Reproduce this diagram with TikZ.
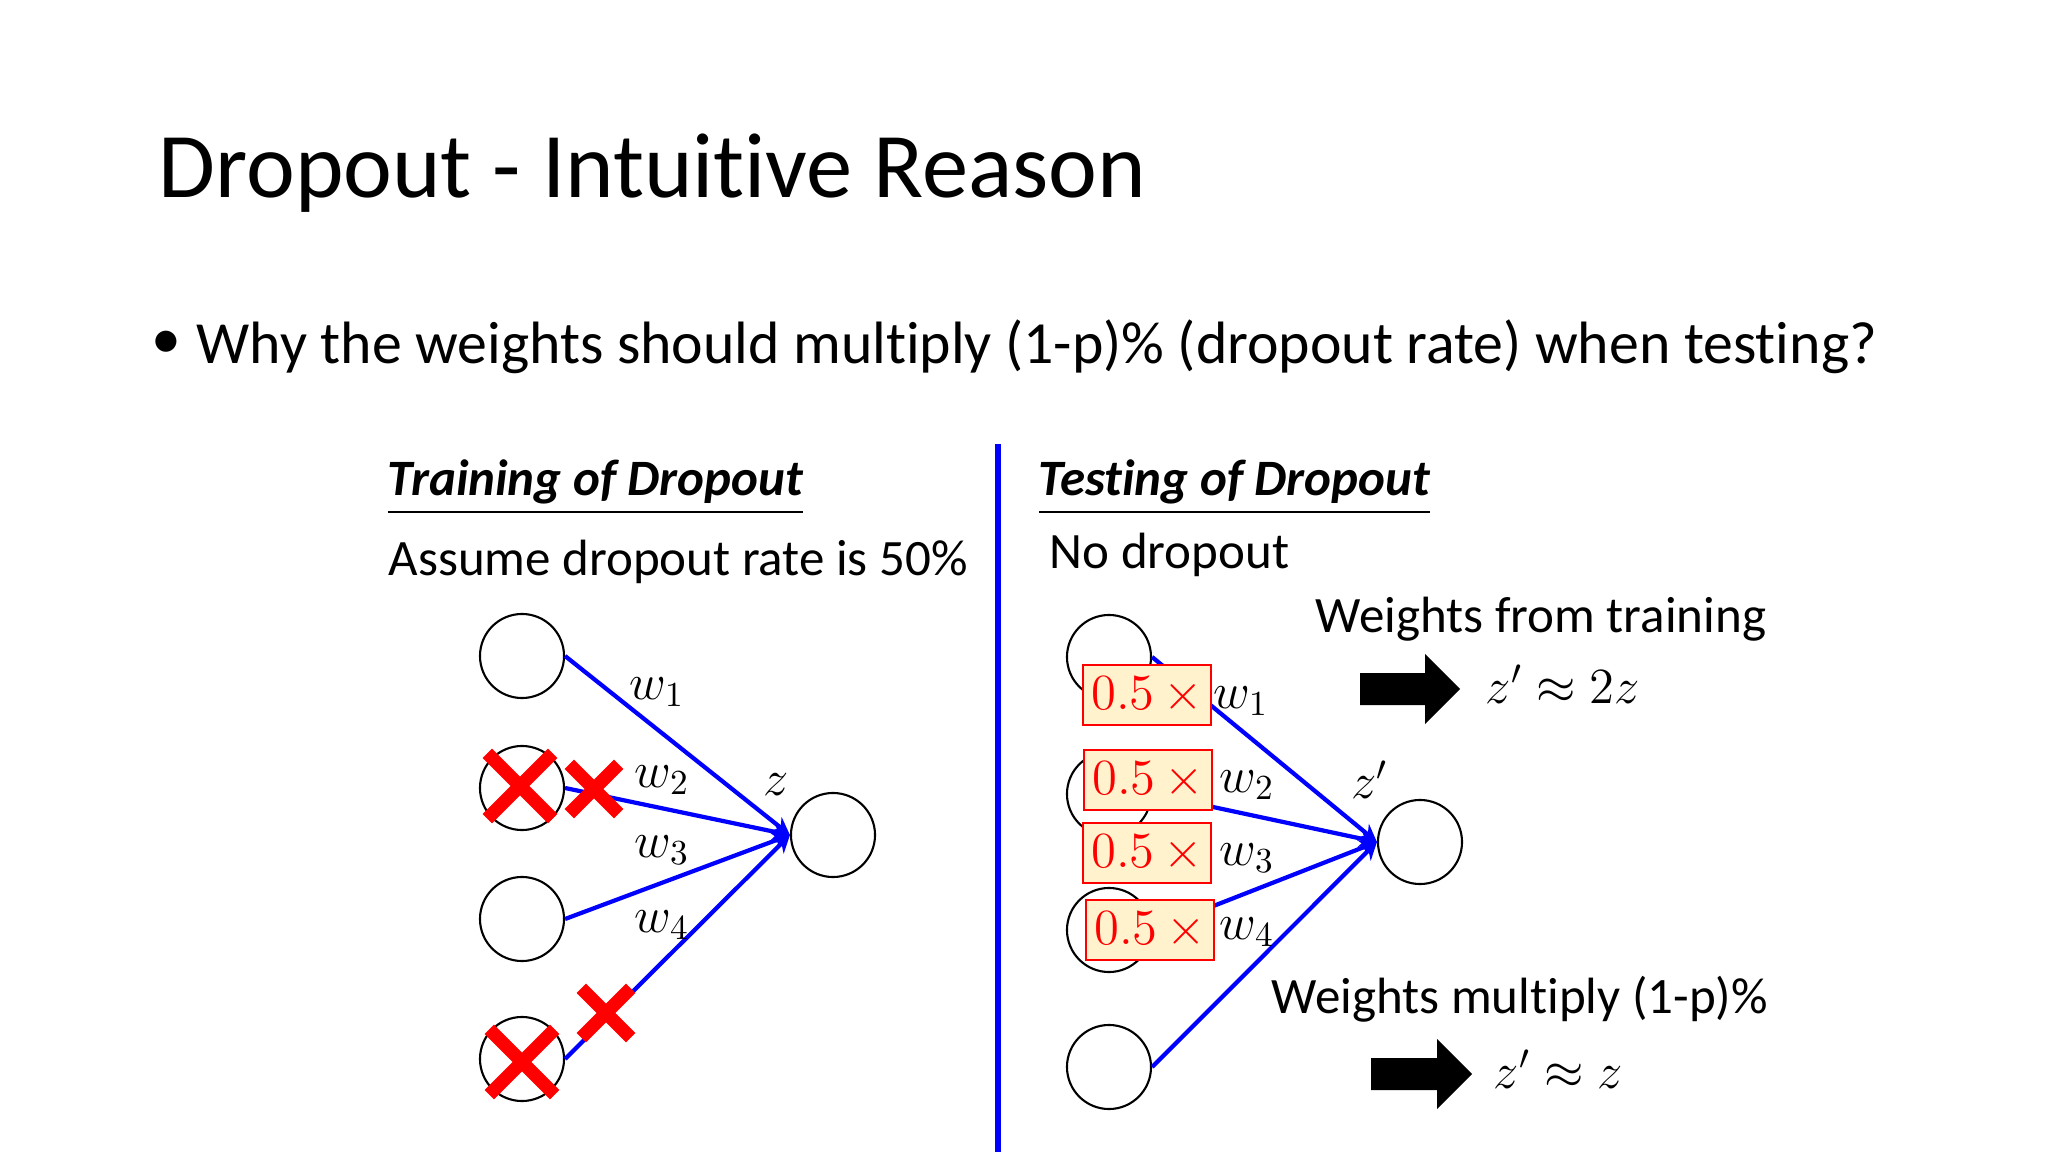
\documentclass[tikz,border=0pt]{standalone}
\usepackage{amsmath,amssymb}
\usepackage{fontspec}
\setmainfont{Carlito}[Ligatures={NoCommon}]
\usepackage{xcolor}
\usetikzlibrary{arrows.meta,shapes.misc}
\definecolor{wireblue}{HTML}{0000FF}
\definecolor{dropred}{HTML}{FF0000}
\definecolor{scalefill}{HTML}{FFF2CC}
\tikzset{
  unit/.style={circle, draw=black, line width=0.6pt, minimum size=0.84cm, inner sep=0pt},
  wire/.style={draw=wireblue, line width=1.2pt, -{Stealth[length=5pt,width=5pt]}},
  divider/.style={draw=wireblue, line width=1.6pt},
  xbig/.style={cross out, draw=dropred, line width=3.8pt, minimum size=0.52cm, inner sep=0pt},
  xsmall/.style={cross out, draw=dropred, line width=3.8pt, minimum size=0.36cm, inner sep=0pt},
  scalebox/.style={draw=dropred, fill=scalefill, line width=0.7pt, text=dropred,
    minimum width=1.28cm, minimum height=0.6cm, inner sep=0pt, font=\fontsize{14.5}{16}\selectfont},
  wlab/.style={font=\fontsize{14}{16}\selectfont, inner sep=0pt},
  head/.style={anchor=base west, inner sep=0pt, font=\fontsize{14.5}{18}\selectfont\bfseries\itshape},
  txt/.style={anchor=base west, inner sep=0pt, font=\fontsize{14.5}{18}\selectfont},
  bigarrow/.style={fill=black},
}

\begin{document}
\begin{tikzpicture}[x=0.01cm, y=-0.01cm]
  \useasboundingbox[fill=white] (0,0) rectangle (2048,1152);
  % heading
  \node[anchor=base west, inner sep=0pt, font=\fontsize{26.3}{32}\selectfont] (title) at (158,198) {Dropout - Intuitive Reason};
  \node[inner sep=0pt, font=\fontsize{17}{20}\selectfont] (dot) at (166,345) {\textbullet};
  \node[anchor=base west, inner sep=0pt, font=\fontsize{17}{20}\selectfont] (question) at (196,364)
    {Why the weights should multiply (1-p)\% (dropout rate) when testing?};
  \draw[divider] (998,444) -- (998,1152);

  % training side
  \node[head] (trainhead) at (387,496) {\underline{Training of Dropout}};
  \node[txt] (assume) at (388,575) {Assume dropout rate is 50\%};
  \node[unit] (in0) at (522,656) {};
  \node[unit] (in1) at (522,788) {};
  \node[unit] (in2) at (522,919) {};
  \node[unit] (in3) at (522,1059) {};
  \node[unit] (out) at (833,835) {};
  \foreach \i in {0,...,3}
    \draw[wire] (in\i.east) -- (out.west);
  \node[wlab] (w1) at (657,692) {$w_1$};
  \node[wlab] (w2) at (662,780) {$w_2$};
  \node[wlab] (w3) at (662,850) {$w_3$};
  \node[wlab] (w4) at (662,925) {$w_4$};
  \node[wlab] (z) at (776,785) {$z$};
  \node[xbig] (x1) at (520,786) {};
  \node[xsmall] (x2) at (594,789) {};
  \node[xbig] (x3) at (522,1062) {};
  \node[xsmall] (x4) at (606,1013) {};

  % testing side
  \node[head] (testhead) at (1038,496) {\underline{Testing of Dropout}};
  \node[txt] (nodrop) at (1049,568) {No dropout};
  \node[unit] (tin0) at (1109,657) {};
  \node[unit] (tin1) at (1109,794) {};
  \node[unit] (tin2) at (1109,930) {};
  \node[unit] (tin3) at (1109,1067) {};
  \node[unit] (tout) at (1420,842) {};
  \foreach \i in {0,...,3}
    \draw[wire] (tin\i.east) -- (tout.west);
  \node[scalebox] (b1) at (1147,695) {$0.5\,\times$};
  \node[scalebox] (b2) at (1148,780) {$0.5\,\times$};
  \node[scalebox] (b3) at (1147,853) {$0.5\,\times$};
  \node[scalebox] (b4) at (1150,930) {$0.5\,\times$};
  \node[wlab] (tw1) at (1241,701) {$w_1$};
  \node[wlab] (tw2) at (1247,785) {$w_2$};
  \node[wlab] (tw3) at (1247,858) {$w_3$};
  \node[wlab] (tw4) at (1247,932) {$w_4$};
  \node[wlab] (zp) at (1370,780) {$z'$};

  \node[txt] (fromtrain) at (1315,633) {Weights from training};
  \fill[bigarrow] (1360,673) -- (1425,673) -- (1425,654) -- (1460,689) -- (1425,724)
    -- (1425,705) -- (1360,705) -- cycle;
  \node[anchor=base west, wlab] (res1) at (1485,703) {$z' \approx 2z$};
  \node[txt] (multiply) at (1271,1013) {Weights multiply (1-p)\%};
  \fill[bigarrow] (1371,1058) -- (1437,1058) -- (1437,1039) -- (1472,1074) -- (1437,1109)
    -- (1437,1090) -- (1371,1090) -- cycle;
  \node[anchor=base west, wlab] (res2) at (1493,1088) {$z' \approx z$};
\end{tikzpicture}
\end{document}
